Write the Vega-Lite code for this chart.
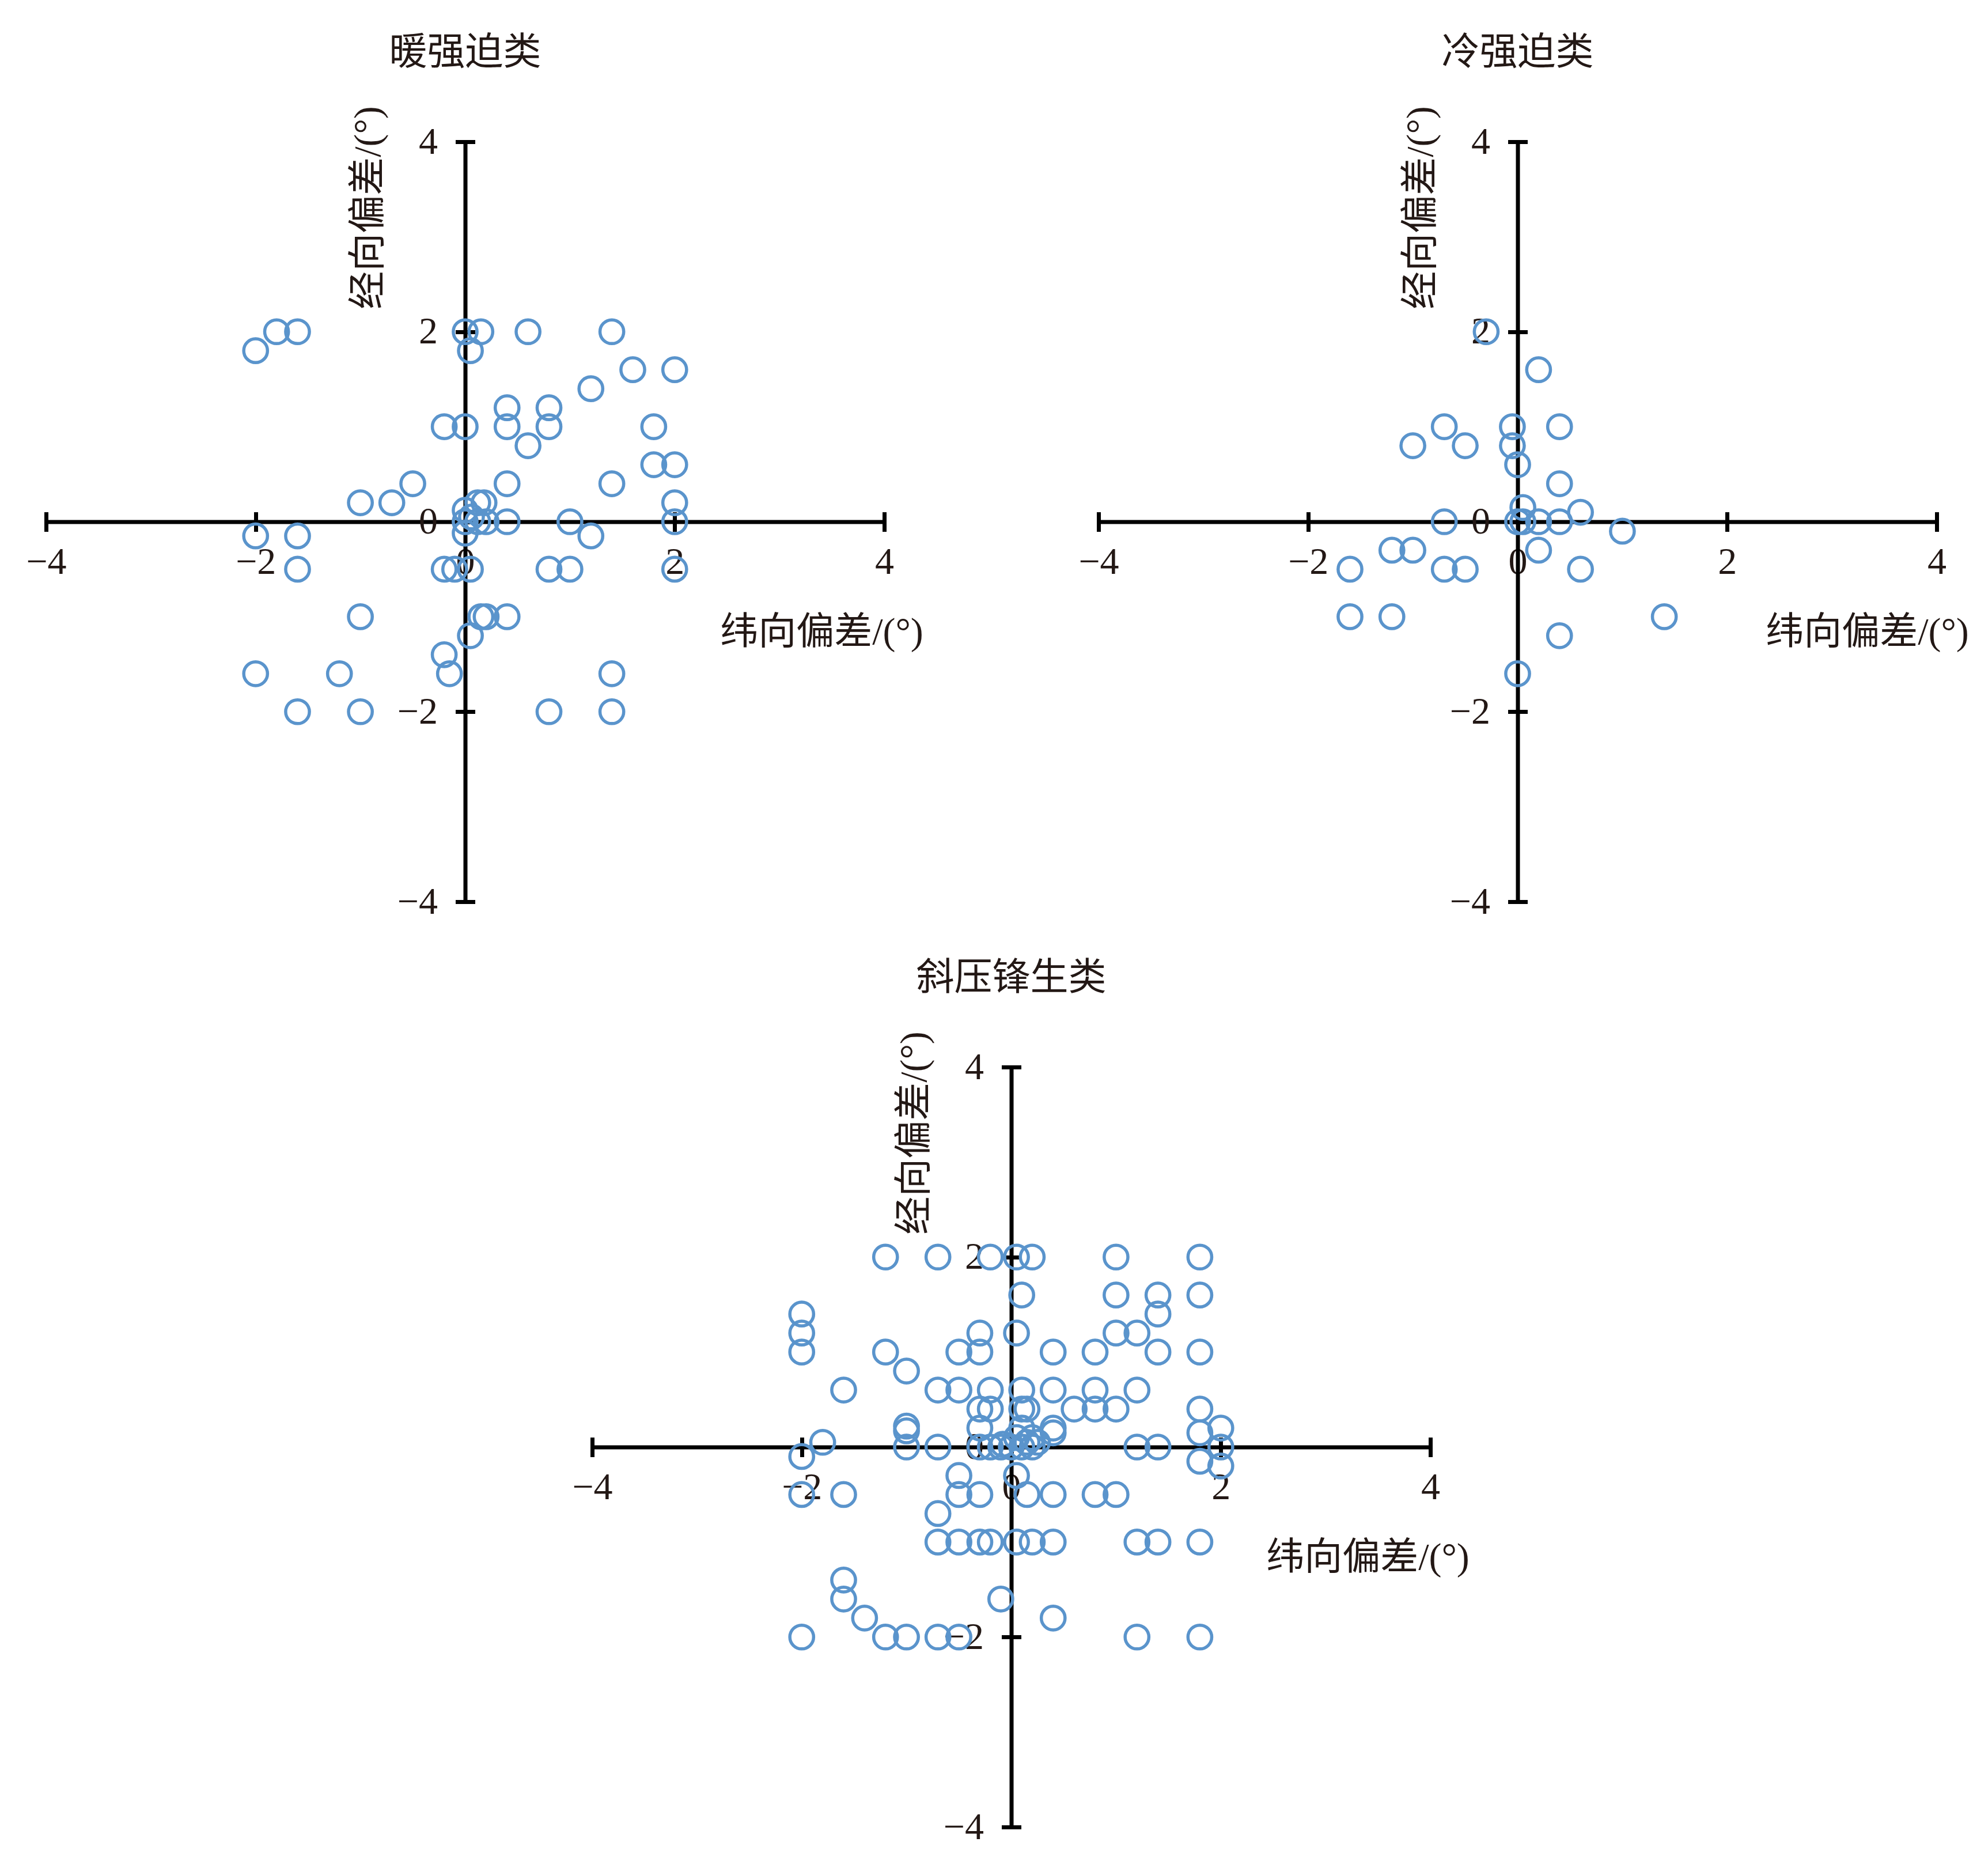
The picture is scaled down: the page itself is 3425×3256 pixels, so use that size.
{
  "$schema": "https://vega.github.io/schema/vega-lite/v6.json",
  "autosize": {"type": "none"},
  "padding": {"left": 80, "top": 246, "right": 3345, "bottom": 3010},
  "background": "white",
  "datasets": {
    "warm": [
      {"x": -2, "y": 1.8}, {"x": -1.8, "y": 2}, {"x": -1.6, "y": 2}, {"x": 0, "y": 2}, {"x": 0.15, "y": 2},
      {"x": 0.05, "y": 1.8}, {"x": 0.6, "y": 2}, {"x": 1.4, "y": 2}, {"x": 1.6, "y": 1.6}, {"x": 2, "y": 1.6},
      {"x": 1.2, "y": 1.4}, {"x": 0.4, "y": 1.2}, {"x": 0.8, "y": 1.2}, {"x": -0.2, "y": 1}, {"x": 0, "y": 1},
      {"x": 0.4, "y": 1}, {"x": 0.8, "y": 1}, {"x": 0.6, "y": 0.8}, {"x": 1.8, "y": 1}, {"x": 1.8, "y": 0.6},
      {"x": 2, "y": 0.6}, {"x": -0.5, "y": 0.4}, {"x": -1, "y": 0.2}, {"x": -0.7, "y": 0.2}, {"x": 0.4, "y": 0.4},
      {"x": 1.4, "y": 0.4}, {"x": 2, "y": 0.2}, {"x": 2, "y": 0}, {"x": 1, "y": 0}, {"x": 1.2, "y": -0.15},
      {"x": 0.4, "y": 0}, {"x": 0, "y": 0.12}, {"x": 0.12, "y": 0.2}, {"x": 0.18, "y": 0.2}, {"x": 0.06, "y": 0.05},
      {"x": 0, "y": 0}, {"x": 0, "y": -0.12}, {"x": 0.12, "y": 0}, {"x": 0.2, "y": 0},
      {"x": -2, "y": -0.15}, {"x": -1.6, "y": -0.15}, {"x": -1.6, "y": -0.5}, {"x": -0.2, "y": -0.5}, {"x": -0.1, "y": -0.5},
      {"x": 0.05, "y": -0.5}, {"x": 0.8, "y": -0.5}, {"x": 1, "y": -0.5}, {"x": 2, "y": -0.5}, {"x": -1, "y": -1},
      {"x": 0.15, "y": -1}, {"x": 0.2, "y": -1}, {"x": 0.4, "y": -1}, {"x": 0.05, "y": -1.2}, {"x": -0.2, "y": -1.4},
      {"x": -0.15, "y": -1.6}, {"x": -2, "y": -1.6}, {"x": -1.2, "y": -1.6}, {"x": 1.4, "y": -1.6}, {"x": -1.6, "y": -2},
      {"x": -1, "y": -2}, {"x": 0.8, "y": -2}, {"x": 1.4, "y": -2}
    ],
    "cold": [
      {"x": -0.3, "y": 2}, {"x": 0.2, "y": 1.6}, {"x": -0.7, "y": 1}, {"x": -0.05, "y": 1}, {"x": 0.4, "y": 1},
      {"x": -1, "y": 0.8}, {"x": -0.5, "y": 0.8}, {"x": -0.05, "y": 0.8}, {"x": 0, "y": 0.6}, {"x": 0.4, "y": 0.4},
      {"x": 0.05, "y": 0.15}, {"x": 0.6, "y": 0.1}, {"x": -0.7, "y": 0}, {"x": 0, "y": 0}, {"x": 0.05, "y": 0},
      {"x": 0.2, "y": 0}, {"x": 0.4, "y": 0}, {"x": 1, "y": -0.1}, {"x": 0.2, "y": -0.3}, {"x": -1.2, "y": -0.3},
      {"x": -1, "y": -0.3}, {"x": -1.6, "y": -0.5}, {"x": -0.7, "y": -0.5}, {"x": -0.5, "y": -0.5}, {"x": 0.6, "y": -0.5},
      {"x": -1.6, "y": -1}, {"x": -1.2, "y": -1}, {"x": 1.4, "y": -1}, {"x": 0.4, "y": -1.2}, {"x": 0, "y": -1.6}
    ],
    "front": [
      {"x": -1.2, "y": 2}, {"x": -0.7, "y": 2}, {"x": -0.2, "y": 2}, {"x": 0.05, "y": 2}, {"x": 0.2, "y": 2},
      {"x": 1, "y": 2}, {"x": 1.8, "y": 2},
      {"x": 0.1, "y": 1.6}, {"x": 1, "y": 1.6}, {"x": 1.4, "y": 1.6}, {"x": 1.8, "y": 1.6},
      {"x": -2, "y": 1.4}, {"x": 1.4, "y": 1.4},
      {"x": -2, "y": 1.2}, {"x": -0.3, "y": 1.2}, {"x": 0.05, "y": 1.2}, {"x": 1, "y": 1.2}, {"x": 1.2, "y": 1.2},
      {"x": -2, "y": 1}, {"x": -1.2, "y": 1}, {"x": -0.5, "y": 1}, {"x": -0.3, "y": 1}, {"x": 0.4, "y": 1},
      {"x": 0.8, "y": 1}, {"x": 1.4, "y": 1}, {"x": 1.8, "y": 1},
      {"x": -1, "y": 0.8},
      {"x": -1.6, "y": 0.6}, {"x": -0.7, "y": 0.6}, {"x": -0.5, "y": 0.6}, {"x": -0.2, "y": 0.6}, {"x": 0.1, "y": 0.6},
      {"x": 0.4, "y": 0.6}, {"x": 0.8, "y": 0.6}, {"x": 1.2, "y": 0.6},
      {"x": -0.3, "y": 0.4}, {"x": -0.2, "y": 0.4}, {"x": 0.1, "y": 0.4}, {"x": 0.15, "y": 0.4}, {"x": 0.6, "y": 0.4},
      {"x": 0.8, "y": 0.4}, {"x": 1, "y": 0.4}, {"x": 1.8, "y": 0.4},
      {"x": -1, "y": 0.22}, {"x": -1, "y": 0.17}, {"x": -0.3, "y": 0.2}, {"x": 0.1, "y": 0.2}, {"x": 0.4, "y": 0.2},
      {"x": 0.4, "y": 0.15}, {"x": 2, "y": 0.2}, {"x": 1.8, "y": 0.15},
      {"x": -1.8, "y": 0.05},
      {"x": -1, "y": 0}, {"x": -0.7, "y": 0}, {"x": -0.3, "y": 0}, {"x": -0.2, "y": 0}, {"x": -0.1, "y": 0},
      {"x": 0, "y": 0}, {"x": 0.1, "y": 0}, {"x": 0.2, "y": 0}, {"x": 1.2, "y": 0}, {"x": 1.4, "y": 0}, {"x": 2, "y": 0},
      {"x": 0.2, "y": 0.1}, {"x": 0.15, "y": 0.05}, {"x": 0.05, "y": 0.1}, {"x": -0.08, "y": 0.03}, {"x": 0.25, "y": 0.05},
      {"x": -2, "y": -0.1}, {"x": 1.8, "y": -0.15}, {"x": 2, "y": -0.2},
      {"x": -0.5, "y": -0.3}, {"x": 0.05, "y": -0.3},
      {"x": -2, "y": -0.5}, {"x": -1.6, "y": -0.5}, {"x": -0.5, "y": -0.5}, {"x": -0.3, "y": -0.5}, {"x": 0.15, "y": -0.5},
      {"x": 0.4, "y": -0.5}, {"x": 0.8, "y": -0.5}, {"x": 1, "y": -0.5},
      {"x": -0.7, "y": -0.7},
      {"x": -0.7, "y": -1}, {"x": -0.5, "y": -1}, {"x": -0.3, "y": -1}, {"x": -0.2, "y": -1}, {"x": 0.05, "y": -1},
      {"x": 0.2, "y": -1}, {"x": 0.4, "y": -1}, {"x": 1.2, "y": -1}, {"x": 1.4, "y": -1}, {"x": 1.8, "y": -1},
      {"x": -1.6, "y": -1.4}, {"x": -1.6, "y": -1.6}, {"x": -0.1, "y": -1.6}, {"x": -1.4, "y": -1.8}, {"x": 0.4, "y": -1.8},
      {"x": -2, "y": -2}, {"x": -1.2, "y": -2}, {"x": -1, "y": -2}, {"x": -0.7, "y": -2}, {"x": -0.5, "y": -2},
      {"x": 1.2, "y": -2}, {"x": 1.8, "y": -2}
    ]
  },
  "bounds": "flush",
  "spacing": 1606,
  "vconcat": [
    {
      "bounds": "flush",
      "spacing": 372,
      "hconcat": [
        {
          "width": 1455, "height": 1319,
          "data": {"name": "warm"},
          "title": {"text": "暖强迫类", "frame": "group", "anchor": "middle", "offset": 58, "fontSize": 66, "font": "Liberation Serif, Noto Sans CJK SC", "fontWeight": "normal", "color": "#231815"},
          "layer": [
            {
              "mark": {"type": "point", "shape": "circle", "size": 1700, "strokeWidth": 5.5, "color": "#5A94CC", "filled": false, "opacity": 1},
              "encoding": {
                "x": {"field": "x", "type": "quantitative", "scale": {"domain": [-4, 4], "nice": false, "zero": false},
                  "axis": {"orient": "bottom", "offset": -659.5, "values": [-4, -2, 0, 2, 4], "title": "纬向偏差/(°)", "titleX": 1346, "titleY": 192, "titleAlign": "center", "titleBaseline": "middle", "titleAngle": 0}},
                "y": {"field": "y", "type": "quantitative", "scale": {"domain": [-4, 4], "nice": false, "zero": false},
                  "axis": {"orient": "left", "offset": -727.5, "values": [-4, -2, 0, 2, 4], "title": "经向偏差/(°)", "titleX": -168, "titleY": 114, "titleAngle": 270, "titleAlign": "center", "titleBaseline": "middle"}}
              }
            },
            {
              "mark": {"type": "point", "opacity": 0},
              "encoding": {
                "x": {"field": "x", "type": "quantitative", "axis": {"orient": "top", "offset": -659.5, "values": [-4, -2, 0, 2, 4], "labels": false, "domain": false, "title": null}},
                "y": {"field": "y", "type": "quantitative", "axis": {"orient": "right", "offset": -727.5, "values": [-4, -2, 0, 2, 4], "labels": false, "domain": false, "title": null}}
              }
            }
          ],
          "resolve": {"axis": {"x": "independent", "y": "independent"}}
        },
        {
          "width": 1455, "height": 1319,
          "data": {"name": "cold"},
          "title": {"text": "冷强迫类", "frame": "group", "anchor": "middle", "offset": 58, "fontSize": 66, "font": "Liberation Serif, Noto Sans CJK SC", "fontWeight": "normal", "color": "#231815"},
          "layer": [
            {
              "mark": {"type": "point", "shape": "circle", "size": 1700, "strokeWidth": 5.5, "color": "#5A94CC", "filled": false, "opacity": 1},
              "encoding": {
                "x": {"field": "x", "type": "quantitative", "scale": {"domain": [-4, 4], "nice": false, "zero": false},
                  "axis": {"orient": "bottom", "offset": -659.5, "values": [-4, -2, 0, 2, 4], "title": "纬向偏差/(°)", "titleX": 1334, "titleY": 192, "titleAlign": "center", "titleBaseline": "middle", "titleAngle": 0}},
                "y": {"field": "y", "type": "quantitative", "scale": {"domain": [-4, 4], "nice": false, "zero": false},
                  "axis": {"orient": "left", "offset": -727.5, "values": [-4, -2, 0, 2, 4], "title": "经向偏差/(°)", "titleX": -168, "titleY": 114, "titleAngle": 270, "titleAlign": "center", "titleBaseline": "middle"}}
              }
            },
            {
              "mark": {"type": "point", "opacity": 0},
              "encoding": {
                "x": {"field": "x", "type": "quantitative", "axis": {"orient": "top", "offset": -659.5, "values": [-4, -2, 0, 2, 4], "labels": false, "domain": false, "title": null}},
                "y": {"field": "y", "type": "quantitative", "axis": {"orient": "right", "offset": -727.5, "values": [-4, -2, 0, 2, 4], "labels": false, "domain": false, "title": null}}
              }
            }
          ],
          "resolve": {"axis": {"x": "independent", "y": "independent"}}
        }
      ]
    },
    {
      "bounds": "flush",
      "spacing": 0,
      "hconcat": [
        {
          "width": 948, "height": 1319,
          "data": {"values": []},
          "mark": {"type": "point", "opacity": 0}
        },
        {
          "width": 1455, "height": 1319,
          "data": {"name": "front"},
          "title": {"text": "斜压锋生类", "frame": "group", "anchor": "middle", "offset": 58, "fontSize": 66, "font": "Liberation Serif, Noto Sans CJK SC", "fontWeight": "normal", "color": "#231815"},
          "layer": [
            {
              "mark": {"type": "point", "shape": "circle", "size": 1700, "strokeWidth": 5.5, "color": "#5A94CC", "filled": false, "opacity": 1},
              "encoding": {
                "x": {"field": "x", "type": "quantitative", "scale": {"domain": [-4, 4], "nice": false, "zero": false},
                  "axis": {"orient": "bottom", "offset": -659.5, "values": [-4, -2, 0, 2, 4], "title": "纬向偏差/(°)", "titleX": 1346, "titleY": 192, "titleAlign": "center", "titleBaseline": "middle", "titleAngle": 0}},
                "y": {"field": "y", "type": "quantitative", "scale": {"domain": [-4, 4], "nice": false, "zero": false},
                  "axis": {"orient": "left", "offset": -727.5, "values": [-4, -2, 0, 2, 4], "title": "经向偏差/(°)", "titleX": -168, "titleY": 114, "titleAngle": 270, "titleAlign": "center", "titleBaseline": "middle"}}
              }
            },
            {
              "mark": {"type": "point", "opacity": 0},
              "encoding": {
                "x": {"field": "x", "type": "quantitative", "axis": {"orient": "top", "offset": -659.5, "values": [-4, -2, 0, 2, 4], "labels": false, "domain": false, "title": null}},
                "y": {"field": "y", "type": "quantitative", "axis": {"orient": "right", "offset": -727.5, "values": [-4, -2, 0, 2, 4], "labels": false, "domain": false, "title": null}}
              }
            }
          ],
          "resolve": {"axis": {"x": "independent", "y": "independent"}}
        }
      ]
    }
  ],
  "config": {
    "view": {"stroke": null},
    "font": "Liberation Serif",
    "axis": {
      "grid": false,
      "domainColor": "#000000",
      "domainWidth": 7,
      "tickColor": "#000000",
      "tickWidth": 7,
      "tickSize": 17,
      "labelFont": "Liberation Serif",
      "labelFontSize": 66,
      "labelColor": "#231815",
      "labelFlush": false,
      "labelOverlap": false,
      "titleFont": "Liberation Serif, Noto Sans CJK SC",
      "titleFontSize": 66,
      "titleFontWeight": "normal",
      "titleColor": "#231815"
    },
    "axisBottom": {"labelPadding": 21},
    "axisLeft": {"labelPadding": 31}
  }
}
